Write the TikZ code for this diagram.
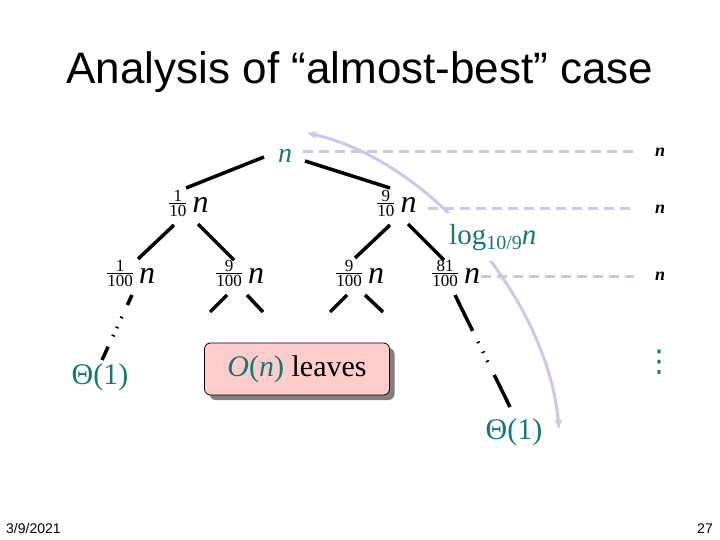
\documentclass[tikz,border=0pt]{standalone}
\usepackage{amsmath}
\usepackage{fontspec}
\setmainfont{Liberation Serif}
\newfontfamily\arialfont{Liberation Sans}
\newfontfamily\dejavufont{DejaVu Sans}
\usetikzlibrary{arrows.meta, positioning, shadows, calc}

\definecolor{tealtxt}{RGB}{20,120,120}
\definecolor{guideblue}{RGB}{200,200,240}
\definecolor{leafpink}{RGB}{255,204,204}

\newcommand{\levfrac}[2]{\raisebox{5pt}{$\genfrac{}{}{0.8pt}{}{\hbox{#1}}{\hbox{#2}}$}}
\newcommand{\bign}{{\fontsize{32}{32}\selectfont\itshape n}}

\begin{document}
\begin{tikzpicture}[
    x=1pt, y=-1pt,
    lev/.style={anchor=base west, inner sep=1pt, font=\fontsize{17}{17}\selectfont},
    edge/.style={line width=3.5pt, draw=black},
    leaf/.style={edge, dash pattern=#1},
    guide/.style={line width=3pt, draw=guideblue, dash pattern=on 10pt off 6pt},
    depthcurve/.style={{Stealth[length=10pt,width=8pt]}-{Stealth[length=10pt,width=8pt]}, line width=3pt, draw=guideblue},
    theta/.style={font=\fontsize{30}{30}\selectfont, text=tealtxt, inner sep=1pt},
    rown/.style={font=\fontsize{18}{18}\selectfont\bfseries\itshape, inner sep=1pt},
    leafbox/.style={
        rectangle, rounded corners=6pt, draw=black, line width=0.8pt,
        fill=leafpink, minimum width=185pt, minimum height=52pt,
        font=\fontsize{30}{30}\selectfont,
        drop shadow={shadow xshift=5pt, shadow yshift=-5pt, fill=black!50, opacity=1}
    },
    foot/.style={font=\arialfont\fontsize{14}{14}\selectfont, inner sep=0pt}
]
\useasboundingbox (0,0) rectangle (720,540);

% Title
\node[anchor=base, font=\arialfont\fontsize{44}{48}\selectfont] (title) at (360,84) {Analysis of “almost-best” case};

% Depth arrow and its label
\coordinate (arctop) at (307,133);
\coordinate (arcbot) at (559,429);
\draw[depthcurve] (arctop) .. controls (430,160) and (548,300) .. (arcbot);
\node[anchor=base west, fill=white, inner xsep=2pt, inner ysep=11pt, text=tealtxt,
      font=\fontsize{29}{29}\selectfont] (depth) at (447,244)
      {log\raisebox{-5pt}{\fontsize{20}{20}\selectfont 10/9}\textit{n}};

% Row 0: root
\node[anchor=base, inner sep=1pt, font=\fontsize{28}{28}\selectfont\itshape, text=tealtxt] (root) at (285,163) {n};

% Row 1
\node[lev] (L1a) at (167,213) {\levfrac{1}{10}\hspace{5pt}\bign};
\node[lev] (L1b) at (375,213) {\levfrac{9}{10}\hspace{5pt}\bign};

% Row 2
\node[lev] (L2a) at (105,283) {\levfrac{1}{100}\hspace{5pt}\bign};
\node[lev] (L2b) at (214,283) {\levfrac{9}{100}\hspace{5pt}\bign};
\node[lev] (L2c) at (334,283) {\levfrac{9}{100}\hspace{5pt}\bign};
\node[lev] (L2d) at (430,283) {\levfrac{81}{100}\hspace{5pt}\bign};

% Leaves
\node[theta] (th1) at (100,377) {Θ(1)};
\node[theta] (th2) at (514,432) {Θ(1)};
\node[leafbox] (leaves) at (297,369) {\textcolor{tealtxt}{\textit{O}(\textit{n})} leaves};

% Cost per row
\node[rown] (rn1) at (660,152) {n};
\node[rown] (rn2) at (660,209) {n};
\node[rown] (rn3) at (660,276) {n};
\node[font=\dejavufont\fontsize{30}{30}\selectfont, text=tealtxt, inner sep=0pt] (more) at (659,362) {⋮};

% Row guides
\draw[guide, shorten <=10pt, shorten >=20pt] (rn1 -| root.east) -- (rn1.west);
\draw[guide, shorten <=10pt, shorten >=20pt] (rn2 -| L1b.east) -- (rn2.west);
\draw[guide, shorten >=20pt] (rn3 -| L2d.east) -- (rn3.west);

% Tree edges
\draw[edge] ([shift={(-21,-6)}]root.base) -- ([shift={(19,-25)}]L1a.base west);
\draw[edge] ([shift={(20,-2)}]root.base) -- ([shift={(15,-25)}]L1b.base west);
\draw[edge] ([shift={(7,12)}]L1a.base west) -- ([shift={(33,-24)}]L2a.base west);
\draw[edge] ([shift={(31,11)}]L1a.base west) -- ([shift={(20,-23)}]L2b.base west);
\draw[edge] ([shift={(15,12)}]L1b.base west) -- ([shift={(21,-25)}]L2c.base west);
\draw[edge] ([shift={(33,11)}]L1b.base west) -- ([shift={(14,-23)}]L2d.base west);
\draw[edge] ([shift={(13,12)}]L2b.base west) -- ++(-17,17);
\draw[edge] ([shift={(33,12)}]L2b.base west) -- ++(16,17);
\draw[edge] ([shift={(13,12)}]L2c.base west) -- ++(-17,17);
\draw[edge] ([shift={(31,12)}]L2c.base west) -- ++(18,17);
\draw[leaf={on 11pt off 13pt on 1.5pt off 9.5pt on 1.5pt off 7.5pt on 1.5pt off 11.5pt on 15pt}]
    ([shift={(27,12)}]L2a.base west) -- ([shift={(2,-17)}]th1.center);
\draw[leaf={on 40pt off 12pt on 1.5pt off 9.5pt on 1.5pt off 8.5pt on 1.5pt off 14.5pt on 36pt}]
    ([shift={(25,12)}]L2d.base west) -- ([shift={(-4,-25)}]th2.center);

% Footer
\node[foot, anchor=base west] (date) at (6,533) {3/9/2021};
\node[foot, anchor=base east] (page) at (713,533) {27};

\end{tikzpicture}
\end{document}
